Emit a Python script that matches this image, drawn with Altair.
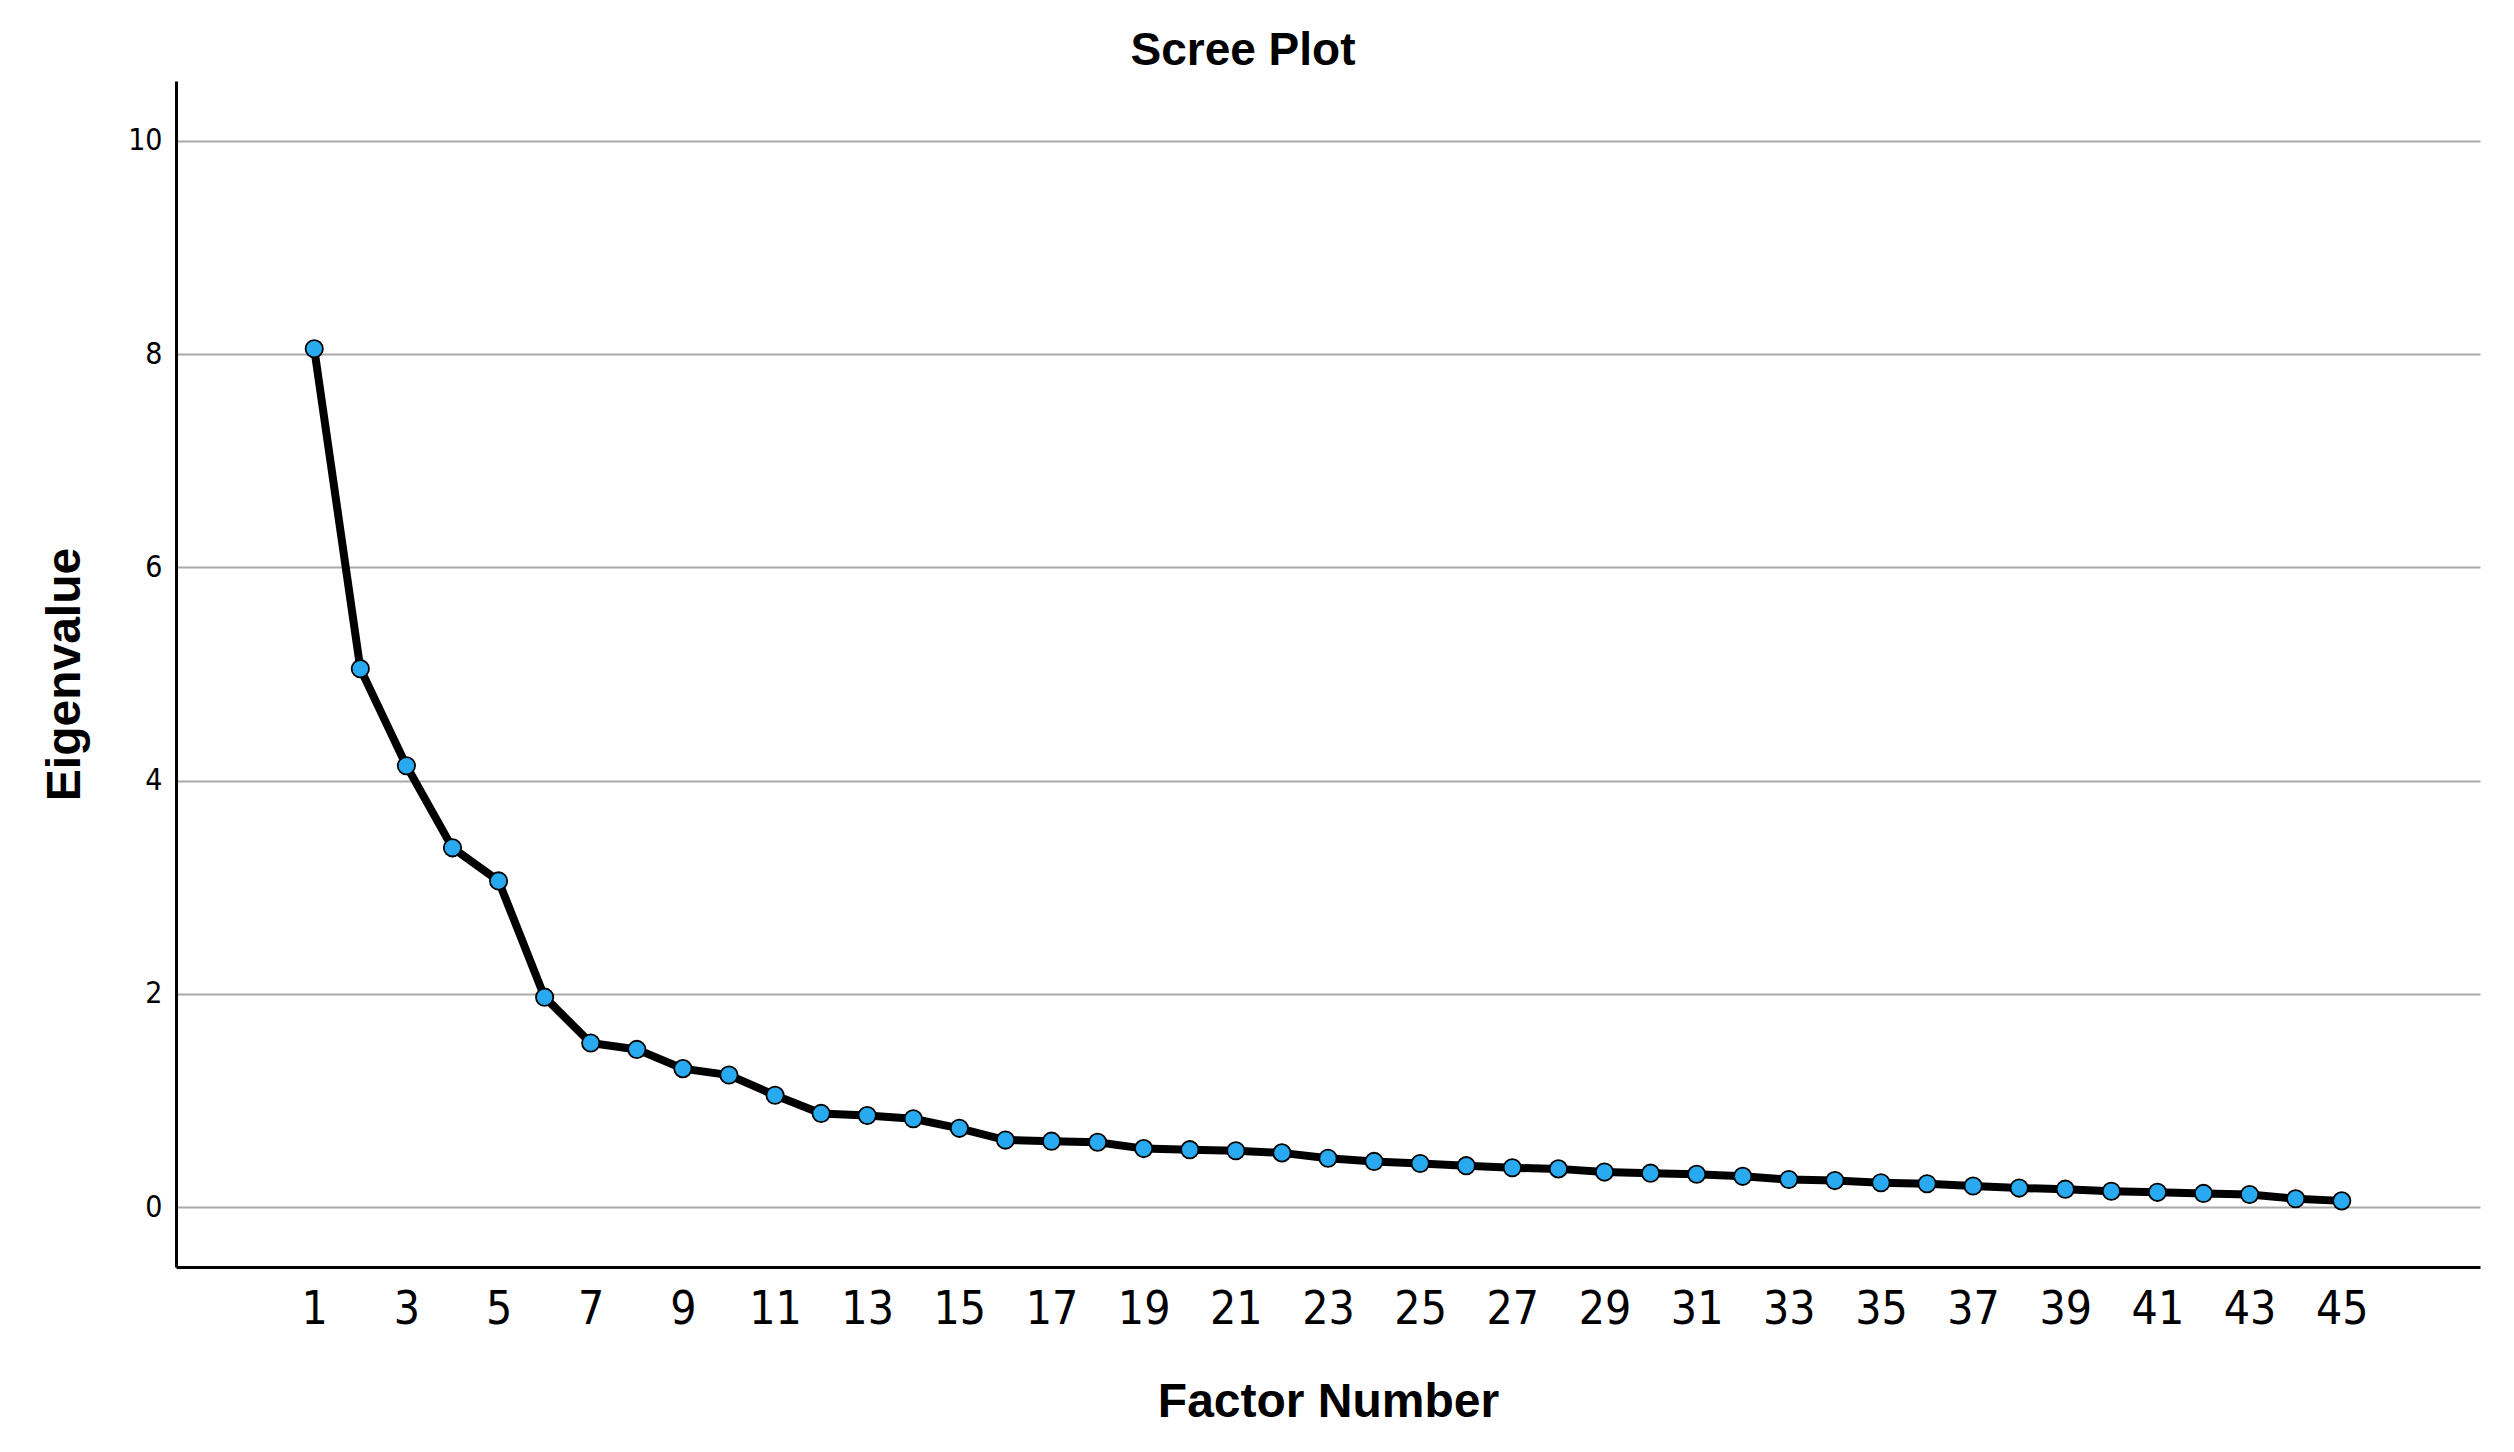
import altair as alt
import pandas as pd

factor = list(range(1, 46))
eigen = [8.05, 5.05, 4.14, 3.37, 3.06, 1.97, 1.54, 1.48, 1.30, 1.24,
         1.05, 0.88, 0.86, 0.83, 0.74, 0.63, 0.62, 0.61, 0.55, 0.54,
         0.53, 0.51, 0.46, 0.43, 0.41, 0.39, 0.37, 0.36, 0.33, 0.32,
         0.31, 0.29, 0.26, 0.25, 0.23, 0.22, 0.20, 0.18, 0.17, 0.15,
         0.14, 0.13, 0.12, 0.08, 0.06]
x_ticks = list(range(1, 46, 2))
y_ticks = [0, 2, 4, 6, 8, 10]

df = pd.DataFrame({"Factor": factor, "Eigenvalue": eigen})

TICK_FONT = "DejaVu Sans Condensed, DejaVu Sans, sans-serif"
TITLE_FONT = "Liberation Sans, Arial, sans-serif"

x_enc = alt.X(
    "Factor:Q",
    scale=alt.Scale(domain=[-2, 48], nice=False, zero=False),
    axis=alt.Axis(
        values=x_ticks, title="Factor Number", grid=False, ticks=False,
        labelFont=TICK_FONT, labelFontSize=46, labelPadding=20,
        labelColor="black", labelOverlap=False, labelFlush=False,
        titleFont=TITLE_FONT, titleFontSize=48, titleFontWeight="bold",
        titleColor="black", titlePadding=46,
        domainColor="black", domainWidth=3,
    ),
)
y_enc = alt.Y(
    "Eigenvalue:Q",
    scale=alt.Scale(domain=[-0.56, 10.56], nice=False, zero=False),
    axis=alt.Axis(
        values=y_ticks, title="Eigenvalue", grid=True, gridColor="#aaaaaa",
        gridWidth=2, ticks=False,
        labelFont=TICK_FONT, labelFontSize=30, labelPadding=14,
        labelColor="black", labelFlush=False,
        titleFont=TITLE_FONT, titleFontSize=48, titleFontWeight="bold",
        titleColor="black", titlePadding=38,
        domainColor="black", domainWidth=3,
    ),
)

base = alt.Chart(df).encode(x=x_enc, y=y_enc)
line = base.mark_line(color="black", strokeWidth=8)
points = base.mark_point(filled=True, shape="circle", size=300, fill="#29aaf0",
                         stroke="black", strokeWidth=1.8, opacity=1)

chart = (
    alt.layer(line, points)
    .properties(
        width=2304, height=1186,
        title=alt.TitleParams("Scree Plot", font=TITLE_FONT, fontSize=46,
                              fontWeight="bold", color="black",
                              anchor="middle", dx=-85, offset=6),
        padding={"left": 33, "top": 20, "right": 10, "bottom": 0},
        background="white",
    )
    .configure_view(stroke=None)
)

chart.save("out.html", embed_options={"renderer": "svg", "actions": False})
